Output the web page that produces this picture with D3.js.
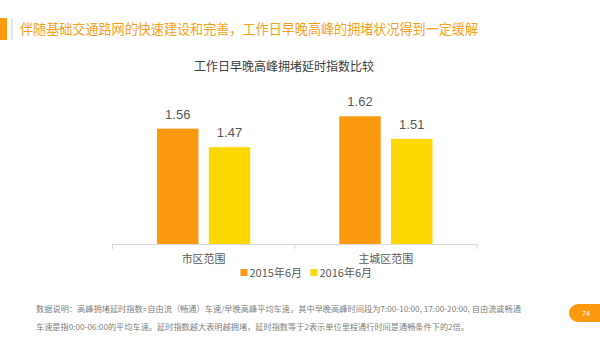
<!DOCTYPE html>
<html><head><meta charset="utf-8">
<script src="https://cdn.jsdelivr.net/npm/d3@7"></script>
<style>body{margin:0;background:#fff;}svg{display:block;}</style>
</head><body>
<svg id="c" width="600" height="338"></svg>
<script>
const categories = ["市区范围", "主城区范围"];
const seriesNames = ["2015年6月", "2016年6月"];
const values2015 = [1.56, 1.62];
const values2016 = [1.47, 1.51];
const colors = ["#FB9A0E", "#FDD700"];
const headline = "伴随基础交通路网的快速建设和完善，工作日早晚高峰的拥堵状况得到一定缓解";
const chartTitle = "工作日早晚高峰拥堵延时指数比较";
const note1 = "数据说明：高峰拥堵延时指数=自由流（畅通）车速/早晚高峰平均车速，其中早晚高峰时间段为7:00-10:00, 17:00-20:00, 自由流或畅通";
const note2 = "车速是指0:00-06:00的平均车速。延时指数越大表明越拥堵，延时指数等于2表示单位里程通行时间是通畅条件下的2倍。";
const pageNo = "74";

const svg = d3.select("#c");
const font = "'Noto Sans CJK SC', 'Noto Sans', sans-serif";
const latin = "'Liberation Sans', Arial, 'Noto Sans CJK SC', sans-serif";

// header
svg.append("rect").attr("x", 0).attr("y", 18).attr("width", 7).attr("height", 22).attr("fill", "#FB9A0E");
svg.append("rect").attr("x", 11).attr("y", 18).attr("width", 2).attr("height", 22).attr("fill", "#e6e6e6");
svg.append("text").attr("x", 20).attr("y", 34).attr("font-family", font).attr("font-size", 14)
  .attr("fill", "#F7A11A").attr("textLength", 458).attr("lengthAdjust", "spacingAndGlyphs").text(headline);

svg.append("text").attr("x", 284).attr("y", 71).attr("text-anchor", "middle").attr("font-family", font)
  .attr("font-size", 12).attr("fill", "#404040").text(chartTitle);

const data = categories.map((c, i) => ({cat: c, vals: [values2015[i], values2016[i]]}));

const x0 = d3.scaleBand().domain(categories).range([112.5, 477]).padding(0);
const x1 = d3.scaleBand().domain(seriesNames).range([0, x0.bandwidth()]).paddingInner(0.2).paddingOuter(0.86);
const y = d3.scaleLinear().domain([1, 2]).range([244, 38]);

const g = svg.append("g");
const groups = g.selectAll("g.grp").data(data).join("g").attr("transform", d => `translate(${x0(d.cat)},0)`);
groups.selectAll("rect").data(d => d.vals.map((v, j) => ({v, s: seriesNames[j], j}))).join("rect")
  .attr("x", d => x1(d.s)).attr("y", d => y(d.v)).attr("width", x1.bandwidth())
  .attr("height", d => y(1) - y(d.v)).attr("fill", d => colors[d.j]);
groups.selectAll("text.val").data(d => d.vals.map((v, j) => ({v, s: seriesNames[j]}))).join("text")
  .attr("class", "val").attr("x", d => x1(d.s) + x1.bandwidth() / 2).attr("y", d => y(d.v) - 10)
  .attr("text-anchor", "middle").attr("font-family", latin).attr("font-size", 13).attr("fill", "#595959")
  .text(d => d.v.toFixed(2));

// axis
const axis = d3.axisBottom(x0).tickSize(0).tickPadding(11);
const ax = svg.append("g").attr("transform", "translate(0,244)").call(axis);
ax.select(".domain").attr("stroke", "#d9d9d9");
ax.selectAll("text").attr("font-family", font).attr("font-size", 11).attr("fill", "#595959");
const bounds = [x0.range()[0], x0(categories[1]), x0.range()[1]];
ax.selectAll("line.sep").data(bounds).join("line").attr("class", "sep")
  .attr("x1", d => d).attr("x2", d => d).attr("y1", 0).attr("y2", 5).attr("stroke", "#d9d9d9");

// legend
const legX = [240.5, 310.5];
const leg = svg.append("g");
seriesNames.forEach((s, i) => {
  leg.append("rect").attr("x", legX[i]).attr("y", 269).attr("width", 7).attr("height", 7).attr("fill", colors[i]);
  leg.append("text").attr("x", legX[i] + 9).attr("y", 277).attr("font-family", font).attr("font-size", 11)
    .attr("fill", "#595959").text(s);
});

// notes
svg.append("text").attr("x", 36).attr("y", 312).attr("font-family", font).attr("font-size", 8)
  .attr("fill", "#7f7f7f").attr("textLength", 485).attr("lengthAdjust", "spacingAndGlyphs").text(note1);
svg.append("text").attr("x", 36).attr("y", 330).attr("font-family", font).attr("font-size", 8)
  .attr("fill", "#7f7f7f").attr("textLength", 433).attr("lengthAdjust", "spacingAndGlyphs").text(note2);

// page badge
svg.append("rect").attr("x", 569).attr("y", 304).attr("width", 45).attr("height", 18).attr("rx", 9).attr("fill", "#FB9A0E");
svg.append("text").attr("x", 586).attr("y", 315.5).attr("text-anchor", "middle").attr("font-family", latin)
  .attr("font-size", 7).attr("fill", "#fff").text(pageNo);
</script>
</body></html>
